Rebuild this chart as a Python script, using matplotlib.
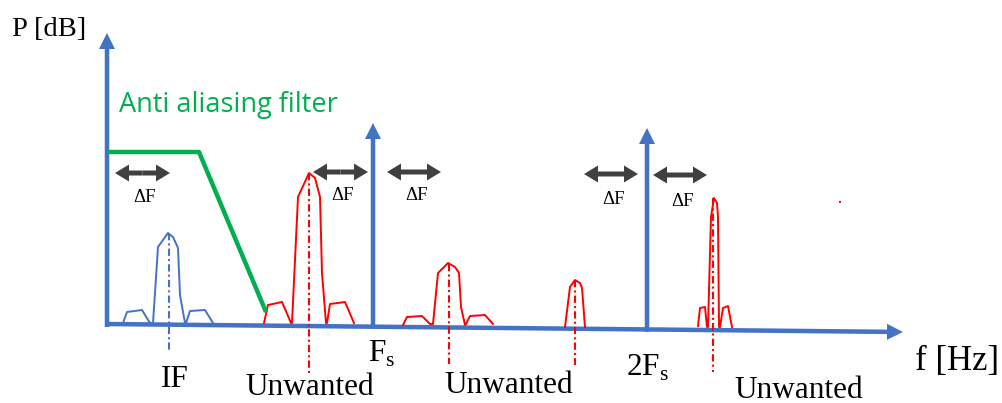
import matplotlib
matplotlib.use("Agg")
import matplotlib.pyplot as plt
from matplotlib.patches import FancyArrow

# ---------------- data (pixel-space schematic) ----------------
BLUE = "#4472C4"
RED = "#FF0000"
GREEN = "#00B050"
GRAY = "#404040"

# IF spectrum (blue)
if_x = [123, 127, 142, 150, 153, 158, 168, 173, 178, 180, 185, 186, 190, 205, 213]
if_y = [323, 312, 310, 323, 323, 247, 233, 237, 248, 295, 323, 323, 311, 310, 323]

# unwanted spectra (red)
u1_x = [264, 268, 282, 291, 292, 298, 309, 315, 320, 322, 326, 327, 330, 345, 354]
u1_y = [323, 305, 302, 323, 323, 197, 173, 178, 197, 273, 323, 323, 304, 302, 323]
u2_x = [403, 407, 422, 430, 433, 438, 448, 455, 459, 461, 465, 466, 470, 485, 493]
u2_y = [325, 317, 316, 324, 324, 273, 263, 267, 273, 307, 325, 324, 316, 315, 324]
u3_x = [565, 570, 575, 580, 582, 585]
u3_y = [327, 287, 280, 283, 288, 327]
u4_x = [698, 700, 705, 707, 708, 711, 714, 717, 718, 719, 720, 723, 728, 732]
u4_y = [326, 308, 307, 327, 327, 217, 198, 203, 217, 327, 327, 308, 306, 327]

# dash-dot markers: (x, y_top, y_bottom, color)
markers = [(169, 233, 352, BLUE), (309, 173, 373, RED), (449, 264, 364, RED),
           (575, 280, 365, RED), (713, 198, 372, RED)]

# anti-aliasing filter
filt_x = [107, 199, 266]
filt_y = [152, 152, 312]

# axis arrows: (x0, y0, x1, y1)
axis_arrows = [(107, 327, 107, 33), (373, 327, 373, 123), (647, 332, 647, 128),
               (105, 324, 903, 332)]

# delta-F double arrows: (x_left, x_right, y, label_x, label_y)
df_arrows = [(115, 170, 173, 145, 198), (313, 368, 172, 343, 196),
             (387, 441, 172, 417, 196), (584, 638, 174, 614, 199),
             (653, 707, 175, 683, 201)]

# bottom labels: (text, x, y, ha)
labels = [("IF", 175, 387, "center"), ("Unwanted", 310, 395, "center"),
          ("F$_{\\mathrm{s}}$", 368, 362, "left"), ("Unwanted", 509, 393, "center"),
          ("2F$_{\\mathrm{s}}$", 626, 376, "left"), ("Unwanted", 799, 398, "center")]

# ---------------- drawing ----------------
plt.rcParams["mathtext.fontset"] = "custom"
plt.rcParams["mathtext.rm"] = "Liberation Serif"
SERIF = "Liberation Serif"

W, H = 1003, 403
fig = plt.figure(figsize=(W / 100, H / 100), dpi=100)
ax = fig.add_axes([0, 0, 1, 1])
ax.set_xlim(0, W)
ax.set_ylim(H, 0)
ax.axis("off")

dash = (0, (3.5, 1.5, 1, 1.5))
for x, yt, yb, c in markers:
    ax.plot([x, x], [yt, yb], color=c, lw=1.5, linestyle=dash)

ax.plot(if_x, if_y, color=BLUE, lw=1.4)
for xs, ys in [(u1_x, u1_y), (u2_x, u2_y), (u3_x, u3_y), (u4_x, u4_y)]:
    ax.plot(xs, ys, color=RED, lw=1.4)

ax.plot(filt_x, filt_y, color=GREEN, lw=3.2, solid_capstyle="butt")

for x0, y0, x1, y1 in axis_arrows:
    ax.add_patch(FancyArrow(x0, y0, x1 - x0, y1 - y0, width=4.5, head_width=16,
                            head_length=16, length_includes_head=True,
                            color=BLUE, lw=0))

for xl, xr, y, lx, ly in df_arrows:
    xm = (xl + xr) / 2
    for xe in (xl, xr):
        ax.add_patch(FancyArrow(xm, y, xe - xm, 0, width=5, head_width=17,
                                head_length=14, length_includes_head=True,
                                color=GRAY, lw=0))
    ax.text(lx, ly, "ΔF", family=SERIF, fontsize=13.5, ha="center", va="center",
            color="black")

# red stray dot
ax.plot([840], [202], marker="s", ms=2, color=RED, mew=0)

ax.text(119, 112, "Anti aliasing filter", family="Open Sans", fontsize=19.5,
        color=GREEN, ha="left", va="baseline")
ax.text(12, 36, "P [dB]", family=SERIF, fontsize=20.5, ha="left", va="baseline")
ax.text(915, 370, "f [Hz]", family=SERIF, fontsize=25, ha="left", va="baseline")
for t, x, y, ha in labels:
    ax.text(x, y, t, family=SERIF, fontsize=22.5, ha=ha, va="baseline")

fig.savefig("out.png", dpi=100)
